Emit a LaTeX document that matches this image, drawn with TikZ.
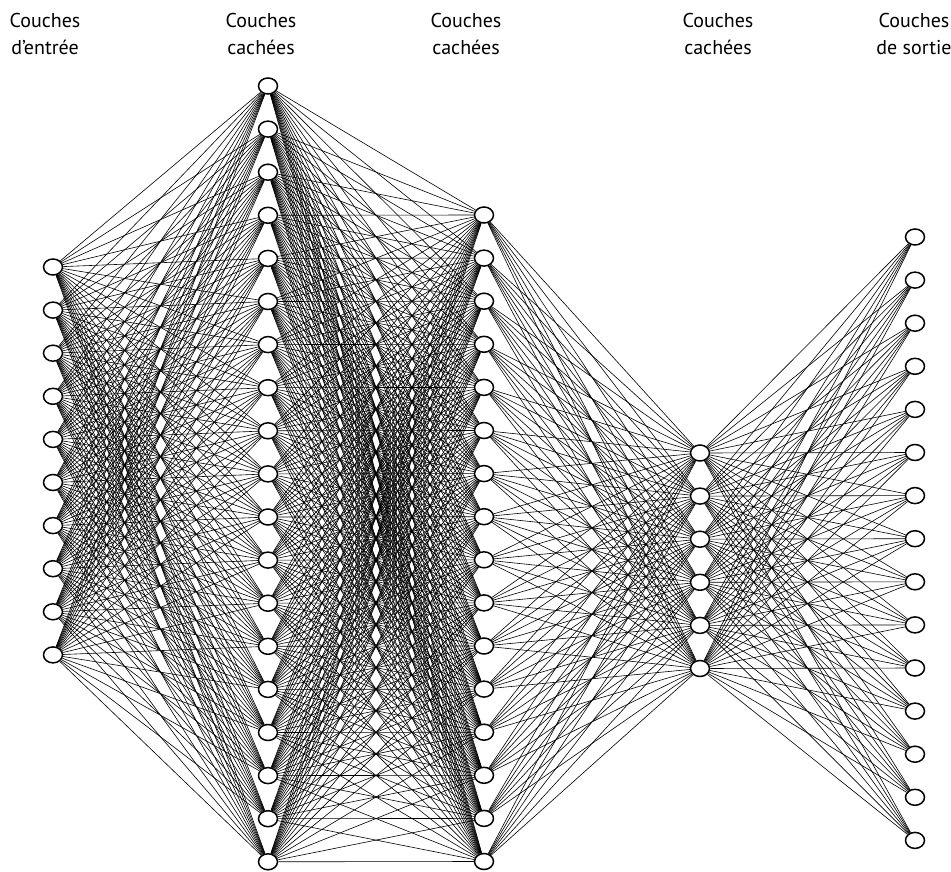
\documentclass[tikz,border=0pt]{standalone}
\usepackage{fontspec}
\setmainfont{PT Sans}
\usetikzlibrary{shapes.geometric}

\begin{document}
\begin{tikzpicture}[x=1pt, y=-1pt, thin]
  \tikzset{neuron/.style={ellipse, draw, line width=1.5pt, fill=white,
      minimum width=19pt, minimum height=16pt, inner sep=0pt},
    layertitle/.style={align=center, font=\fontsize{20}{27}\selectfont}}
  \useasboundingbox (0,0) rectangle (951,872);
  \newcommand\gap{43.1}

  % Neurons: layer / x / first y / count
  \foreach \l/\x/\y/\n in {1/53/267/10, 2/268/86/19, 3/484/215/16, 4/700/453/6, 5/915/237/15} {
    \foreach \i in {1,...,\n} {
      \node[neuron] (n\l-\i) at (\x, {\y+\gap*(\i-1)}) {};
    }
  }

  % Weights
  \foreach \a/\b/\na/\nb in {1/2/10/19, 2/3/19/16, 3/4/16/6, 4/5/6/15} {
    \foreach \i in {1,...,\na} {
      \foreach \j in {1,...,\nb} {
        \draw[line width=0.6pt] (n\a-\i) -- (n\b-\j);
      }
    }
  }

  % Names
  \node[layertitle] (t1) at (45, 34) {Couches\\d’entrée};
  \node[layertitle] (t2) at (261, 34) {Couches\\cachées};
  \node[layertitle] (t3) at (466, 34) {Couches\\cachées};
  \node[layertitle] (t4) at (718, 34) {Couches\\cachées};
  \node[layertitle] (t5) at (914, 34) {Couches\\de sortie};
\end{tikzpicture}
\end{document}
